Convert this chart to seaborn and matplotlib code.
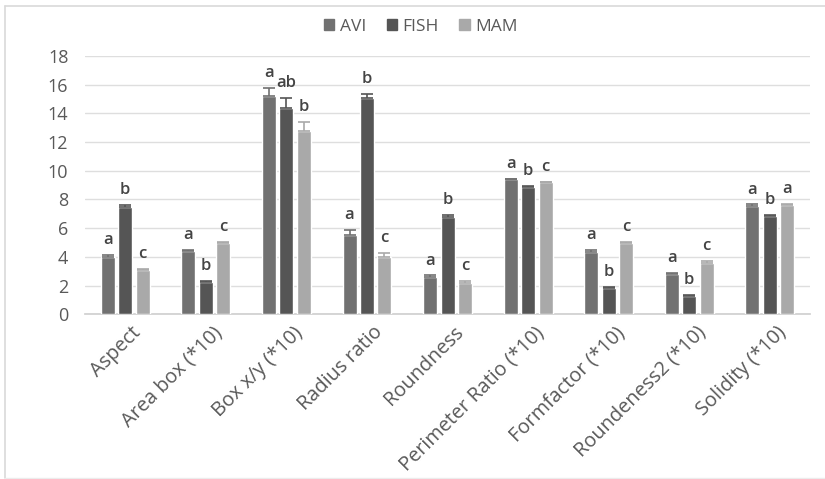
import numpy as np
import pandas as pd
import matplotlib
matplotlib.use("Agg")
import matplotlib.pyplot as plt
import matplotlib.transforms as mtransforms
from matplotlib.lines import Line2D
import seaborn as sns

categories = ["Aspect", "Area box (*10)", "Box x/y (*10)", "Radius ratio", "Roundness",
              "Perimeter Ratio (*10)", "Formfactor (*10)", "Roundeness2 (*10)", "Solidity (*10)"]
groups = ["AVI", "FISH", "MAM"]

avi = [4.0, 4.4, 15.2, 5.5, 2.6, 9.4, 4.35, 2.8, 7.55]
fish = [7.5, 2.25, 14.4, 15.1, 6.8, 8.9, 1.8, 1.25, 6.85]
mam = [3.05, 4.95, 12.8, 4.0, 2.2, 9.2, 4.95, 3.6, 7.6]

avi_err = [0.1, 0.1, 0.6, 0.35, 0.1, 0.05, 0.1, 0.1, 0.1]
fish_err = [0.1, 0.1, 0.7, 0.25, 0.1, 0.05, 0.1, 0.1, 0.1]
mam_err = [0.1, 0.1, 0.6, 0.25, 0.1, 0.05, 0.1, 0.1, 0.1]

avi_letters = ["a", "a", "a", "a", "a", "a", "a", "a", "a"]
fish_letters = ["b", "b", "ab", "b", "b", "b", "b", "b", "b"]
mam_letters = ["c", "c", "b", "c", "c", "c", "c", "c", "a"]

colors = {"AVI": "#717171", "FISH": "#555555", "MAM": "#a9a9a9"}

rows = []
for g, vals, errs, labs in [("AVI", avi, avi_err, avi_letters),
                            ("FISH", fish, fish_err, fish_letters),
                            ("MAM", mam, mam_err, mam_letters)]:
    for c, v, e, l in zip(categories, vals, errs, labs):
        rows.append({"measure": c, "group": g, "value": v, "err": e, "letter": l})
df = pd.DataFrame(rows)

sns.set_theme(style="white")
plt.rcParams["font.family"] = ["Open Sans", "DejaVu Sans"]

fig = plt.figure(figsize=(8.25, 4.79), dpi=100)
ax = fig.add_axes([0.103, 0.344, 0.879, 0.539])

sns.barplot(data=df, x="measure", y="value", hue="group", order=categories,
            hue_order=groups, palette=colors, width=0.65, gap=0.2,
            errorbar=None, ax=ax, legend=False, zorder=3)

# upper error bars and significance letters on each bar
for gi, g in enumerate(groups):
    cont = ax.containers[gi]
    sub = df[df["group"] == g].set_index("measure").loc[categories]
    for patch, (_, r) in zip(cont.patches, sub.iterrows()):
        xc = patch.get_x() + patch.get_width() / 2
        ax.errorbar(xc, r["value"], yerr=[[0], [r["err"]]], fmt="none",
                    ecolor=colors[g], elinewidth=1.2, capsize=4, capthick=1.2, zorder=4)
        ax.annotate(r["letter"], (xc, r["value"] + r["err"]), xytext=(0, 5),
                    textcoords="offset points", ha="center", va="bottom",
                    fontsize=12, fontweight="semibold", color="#444444")

ax.set_ylim(0, 18)
ax.set_yticks(np.arange(0, 19, 2))
ax.set_xlim(-0.5, len(categories) - 0.5)
ax.yaxis.grid(True, color="#dedede", linewidth=1)
ax.set_axisbelow(True)
for s in ["top", "right", "left"]:
    ax.spines[s].set_visible(False)
ax.spines["bottom"].set_color("#d0d0d0")
ax.set_xlabel("")
ax.set_ylabel("")
ax.tick_params(axis="y", labelsize=13, labelcolor="#595959", length=0, pad=12)
ax.tick_params(axis="x", labelsize=14.3, labelcolor="#595959", length=0, pad=6)
shift = mtransforms.ScaledTranslation(6 / 100, 0, fig.dpi_scale_trans)
for lab in ax.get_xticklabels():
    lab.set_rotation(45)
    lab.set_ha("right")
    lab.set_rotation_mode("anchor")
    lab.set_transform(lab.get_transform() + shift)

handles = [plt.Rectangle((0, 0), 1, 1, color=colors[g]) for g in groups]
fig.legend(handles, groups, loc="center", bbox_to_anchor=(0.51, 0.944), ncol=3,
           frameon=False, fontsize=12.5, labelcolor="#595959", handlelength=0.6,
           handleheight=0.6, handletextpad=0.3, columnspacing=1.2)

# light frame around the chart
frame_kw = dict(transform=fig.transFigure, color="#d9d9d9", linewidth=1.2)
fig.add_artist(Line2D([5 / 825, 5 / 825], [1 - 478 / 479, 1 - 6 / 479], **frame_kw))
fig.add_artist(Line2D([5 / 825, 1], [1 - 6 / 479, 1 - 6 / 479], **frame_kw))
fig.add_artist(Line2D([5 / 825, 1], [1 - 478 / 479, 1 - 478 / 479],
                      transform=fig.transFigure, color="#ececec", linewidth=1))

fig.savefig("out.png", dpi=100)
